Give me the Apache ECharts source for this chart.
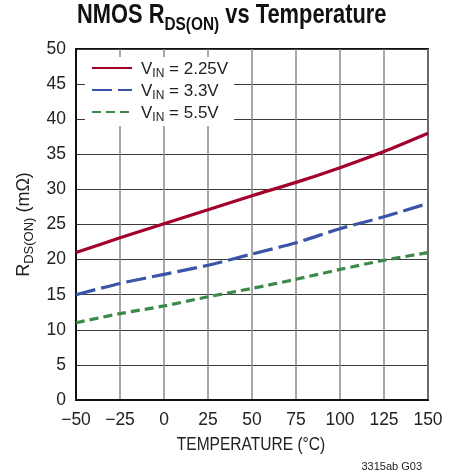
<!DOCTYPE html>
<html>
<head>
<meta charset="utf-8">
<script src="https://cdn.jsdelivr.net/npm/echarts@6/dist/echarts.min.js"></script>
<style>
  html, body { margin: 0; padding: 0; background: #fff; }
  #chart { width: 459px; height: 472px; }
</style>
</head>
<body>
<div id="chart"></div>
<script>
// Junction temperature (°C) and on-resistance (mΩ) at three input voltages
var temperatures = [-50, -25, 0, 25, 50, 75, 100, 125, 150];
var rdsVin225 = [21, 23.1, 25.1, 27.1, 29.1, 31.0, 33.1, 35.4, 38];
var rdsVin33  = [15, 16.6, 17.9, 19.2, 20.8, 22.4, 24.4, 26.1, 28];
var rdsVin55  = [11, 12.3, 13.4, 14.7, 15.9, 17.2, 18.6, 19.9, 21];
var seriesNames = ['2.25V', '3.3V', '5.5V'];
var xTicks = [-50, -25, 0, 25, 50, 75, 100, 125, 150];
var yTicks = [0, 5, 10, 15, 20, 25, 30, 35, 40, 45, 50];

var FONT = "'Liberation Sans', Arial, sans-serif";

function pairs(values) {
  return temperatures.map(function (t, i) { return [t, values[i]]; });
}

var chart = echarts.init(document.getElementById('chart'), null, { renderer: 'canvas' });

chart.setOption({
  backgroundColor: '#ffffff',
  animation: false,
  textStyle: { fontFamily: FONT },
  title: {
    text: '3315ab G03',
    right: 32,
    top: 456,
    textStyle: { fontFamily: FONT, fontWeight: 'normal', fontSize: 11, color: '#222' }
  },
  graphic: [{
    // chart heading, condensed horizontally
    type: 'text',
    x: 77, y: 2,
    scaleX: 0.81,
    silent: true,
    style: {
      text: '{a|NMOS R}{b|DS(ON)}{a| vs Temperature}',
      verticalAlign: 'top',
      rich: {
        a: { fontFamily: FONT, fontWeight: 'bold', fontSize: 27, fill: '#111', lineHeight: 30, verticalAlign: 'top' },
        b: { fontFamily: FONT, fontWeight: 'bold', fontSize: 19, fill: '#111', lineHeight: 20, verticalAlign: 'top', padding: [13, 0, 0, 0] }
      }
    }
  }, {
    // horizontal axis caption
    type: 'text',
    x: 251, y: 445,
    scaleX: 0.84,
    silent: true,
    style: {
      text: 'TEMPERATURE (°C)',
      textAlign: 'center',
      verticalAlign: 'middle',
      fontFamily: FONT, fontSize: 18.5, fill: '#222'
    }
  }],
  grid: {
    left: 76, right: 31, top: 49, bottom: 72,
    show: true, borderColor: '#111', borderWidth: 2, backgroundColor: 'transparent'
  },
  legend: {
    orient: 'vertical',
    left: 85, top: 57,
    width: 148,
    padding: [4, 6, 2, 6],
    backgroundColor: '#ffffff',
    itemWidth: 40,
    itemHeight: 14,
    itemGap: 3,
    itemStyle: { opacity: 0 },
    data: seriesNames,
    formatter: function (name) {
      return '{m|V}{s|IN}{m| = ' + name + '}';
    },
    textStyle: {
      padding: [0, 0, 0, 4],
      rich: {
        m: { fontFamily: FONT, fontSize: 17, color: '#222', lineHeight: 14, verticalAlign: 'top' },
        s: { fontFamily: FONT, fontSize: 12, color: '#222', lineHeight: 12, verticalAlign: 'top', padding: [7, 0, 0, 0] }
      }
    }
  },
  xAxis: {
    type: 'value',
    min: -50, max: 150, interval: 25,
    axisLine: { show: true, onZero: false, lineStyle: { color: '#111', width: 2 } },
    axisTick: { show: false },
    axisLabel: {
      margin: 11,
      fontFamily: FONT, fontSize: 17.5, color: '#222',
      formatter: function (v) { return xTicks.indexOf(v) >= 0 ? String(v).replace('-', '\u2212') : ''; }
    },
    splitLine: { show: true, lineStyle: { color: '#8a8a8a', width: 1.5 } }
  },
  yAxis: {
    type: 'value',
    min: 0, max: 50, interval: 5,
    name: '{m|R}{s|DS(ON)}{m| (mΩ)}',
    nameLocation: 'middle',
    nameGap: 36,
    nameRotate: 90,
    nameTextStyle: {
      rich: {
        m: { fontFamily: FONT, fontSize: 18, color: '#222', lineHeight: 16, verticalAlign: 'top' },
        s: { fontFamily: FONT, fontSize: 13, color: '#222', lineHeight: 12, verticalAlign: 'top', padding: [8, 0, 0, 0] }
      }
    },
    axisLine: { show: true, onZero: false, lineStyle: { color: '#111', width: 2 } },
    axisTick: { show: false },
    axisLabel: {
      margin: 10,
      fontFamily: FONT, fontSize: 17.5, color: '#222',
      formatter: function (v) { return yTicks.indexOf(v) >= 0 ? String(v) : ''; }
    },
    splitLine: { show: true, lineStyle: { color: '#3a3a3a', width: 1 } }
  },
  series: [{
    name: seriesNames[0],
    type: 'line',
    data: pairs(rdsVin225),
    smooth: 0.3,
    symbol: 'none',
    lineStyle: { color: '#a3002b', width: 3.2, type: 'solid' },
    itemStyle: { color: '#a3002b' }
  }, {
    name: seriesNames[1],
    type: 'line',
    data: pairs(rdsVin33),
    smooth: 0.3,
    symbol: 'none',
    lineStyle: { color: '#3a55a8', width: 3.2, type: [20, 6] },
    itemStyle: { color: '#3a55a8' }
  }, {
    name: seriesNames[2],
    type: 'line',
    data: pairs(rdsVin55),
    smooth: 0.3,
    symbol: 'none',
    lineStyle: { color: '#3b8a4a', width: 3.2, type: [9, 5] },
    itemStyle: { color: '#3b8a4a' }
  }]
});
</script>
</body>
</html>
